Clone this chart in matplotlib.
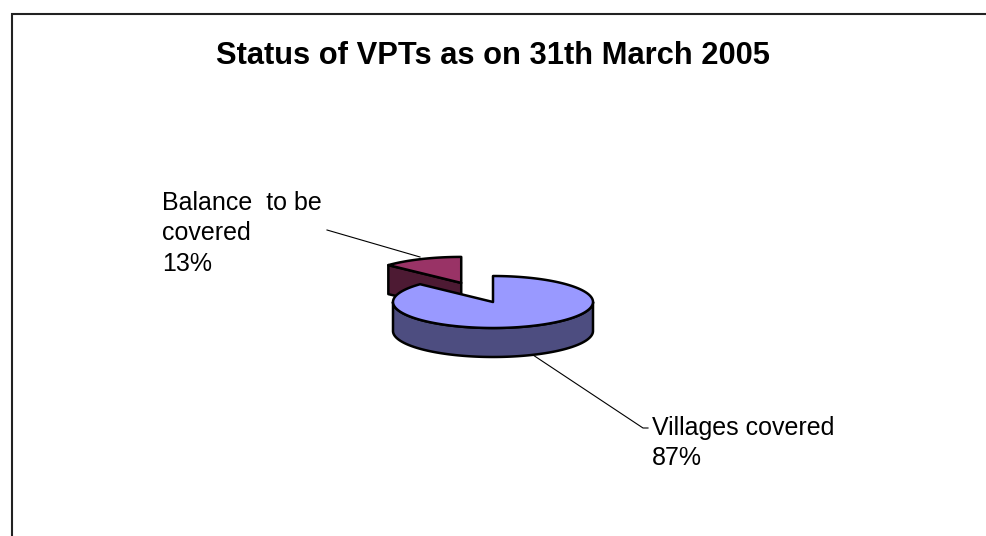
import numpy as np
import matplotlib
matplotlib.use("Agg")
import matplotlib.pyplot as plt
from matplotlib.patches import Polygon, Rectangle

# Données du graphique
labels = ["Villages covered", "Balance  to be\ncovered"]
values = [87, 13]
top_colors = ["#9999FF", "#993366"]
side_colors = ["#4D4D80", "#4D1A33"]
title = "Status of VPTs as on 31th March 2005"

plt.rcParams['font.family'] = ['Liberation Sans', 'DejaVu Sans']

fig = plt.figure(figsize=(9.86, 5.36), dpi=100)
ax = fig.add_axes([0, 0, 1, 1])
ax.set_xlim(0, 986)
ax.set_ylim(536, 0)
ax.axis('off')

# cadre du graphique
fig.patches.append(Rectangle((11.5 / 986, -0.1), 1.1, (536 - 13.5) / 536 + 0.1,
                             transform=fig.transFigure, fill=False,
                             edgecolor='#222222', linewidth=1.5))

# géométrie de la tarte 3D
cx, cy = 493, 302
rx, ry = 100, 26
depth = 29
explode = [0, 0.8]


def pt(x0, y0, ang, dz=0):
    a = np.deg2rad(ang)
    return x0 + rx * np.cos(a), y0 - ry * np.sin(a) + dz


# angles des parts (départ à 12h, sens horaire)
total = sum(values)
spans = [v / total * 360 for v in values]
wedges = []
start = 90
for v, s in zip(values, spans):
    wedges.append((start - s, start))
    start -= s

# ordre : petite part (derrière) puis grande part
order = [1, 0]
lw = 1.8
for i in order:
    t1, t2 = wedges[i]
    mid = np.deg2rad((t1 + t2) / 2)
    ox = cx + explode[i] * rx * np.cos(mid)
    oy = cy - explode[i] * ry * np.sin(mid)

    # faces latérales radiales visibles
    for edge in (t1, t2):
        e = np.deg2rad(edge)
        if np.sin(e) > 0 and ((edge == t2 and np.cos(e) < 0) or (edge == t1 and np.cos(e) > 0)):
            ex, ey = pt(ox, oy, edge)
            poly = [(ox, oy), (ex, ey), (ex, ey + depth), (ox, oy + depth)]
            ax.add_patch(Polygon(poly, closed=True, facecolor=side_colors[i],
                                 edgecolor='black', linewidth=lw, joinstyle='round'))

    # face latérale extérieure (avant, entre 180 et 360 degrés)
    a1, a2 = t1, t2
    if a2 < a1:
        a2 += 360
    for shift in (-360, 0, 360):
        lo_a = max(a1 + shift, 180)
        hi_a = min(a2 + shift, 360)
        if hi_a > lo_a:
            th = np.linspace(lo_a, hi_a, 120)
            top = [pt(ox, oy, t) for t in th]
            bot = [pt(ox, oy, t, depth) for t in th[::-1]]
            ax.add_patch(Polygon(top + bot, closed=True, facecolor=side_colors[i],
                                 edgecolor='black', linewidth=lw, joinstyle='round'))

    # face supérieure
    th = np.linspace(t1, t2, 200)
    top = [(ox, oy)] + [pt(ox, oy, t) for t in th]
    ax.add_patch(Polygon(top, closed=True, facecolor=top_colors[i],
                         edgecolor='black', linewidth=lw, joinstyle='round'))

# étiquettes et traits de rappel
ax.plot([327, 420], [230, 257], color='black', linewidth=0.8)
ax.plot([533, 643, 648], [355, 428, 428], color='black', linewidth=0.8)

fs = 18
ax.text(162, 191, f"{labels[1]}\n{values[1]}%", fontsize=fs, ha='left', va='top',
        linespacing=1.33)
ax.text(652, 416, f"{labels[0]}\n{values[0]}%", fontsize=fs, ha='left', va='top',
        linespacing=1.33)

ax.text(493, 56, title, fontsize=22.2, fontweight='bold', ha='center', va='center')

fig.savefig("out.png", dpi=100)
